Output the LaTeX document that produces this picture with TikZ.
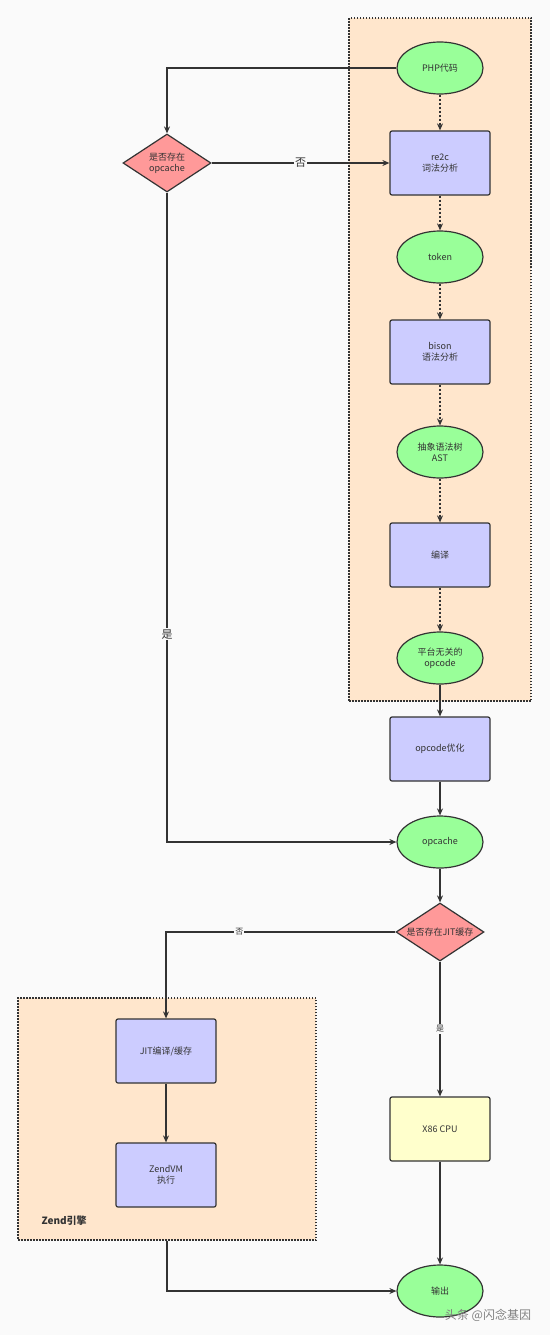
\documentclass[tikz,border=0pt]{standalone}
\usepackage{fontspec}
\setmainfont{Noto Sans CJK SC}
\usepackage{tikz}
\usetikzlibrary{arrows.meta,shapes.geometric,backgrounds}
\definecolor{bgcol}{HTML}{FAFAFA}
\definecolor{linecol}{HTML}{333333}
\definecolor{termcol}{HTML}{99FF99}
\definecolor{proccol}{HTML}{CCCCFF}
\definecolor{testcol}{HTML}{FF9999}
\definecolor{cpucol}{HTML}{FFFFCC}
\definecolor{groupcol}{HTML}{FFE6CC}
\newcommand{\thickness}{1.2pt}
\newcommand{\tip}{{Stealth[length=7pt,width=6pt]}}

\begin{document}
\begin{tikzpicture}[x=1pt,y=-1pt,
  every node/.style={text=linecol,font=\fontsize{9}{11}\selectfont,align=center},
  term/.style={ellipse,draw=linecol,fill=termcol,line width=\thickness,minimum width=86pt,minimum height=52pt,inner sep=0pt},
  proc/.style={rectangle,rounded corners=2pt,draw=linecol,fill=proccol,line width=\thickness,minimum width=100pt,minimum height=64pt},
  test/.style={diamond,draw=linecol,fill=testcol,line width=\thickness,minimum width=88pt,minimum height=58pt,inner sep=0pt,aspect=1.5},
  group/.style={rectangle,draw=linecol,fill=groupcol,line width=\thickness,dash pattern=on 1.5pt off 1.5pt},
  arr/.style={draw=linecol,line width=\thickness,-\tip},
  dotarr/.style={arr,dash pattern=on 2pt off 2pt},
  lbl/.style={fill=bgcol,inner sep=1pt,font=\fontsize{11}{13}\selectfont},
  smalllbl/.style={fill=bgcol,inner sep=1pt,font=\fontsize{8}{10}\selectfont}]
\useasboundingbox (0,0) rectangle (550,1335);
%parser
\node[term] (php) at (440, 68) {PHP代码};
\node[proc] (re2c) at (440, 163) {re2c\\词法分析};
\node[term] (token) at (440, 257) {token};
\node[proc] (bison) at (440, 352) {bison\\语法分析};
\node[term] (ast) at (440, 452) {抽象语法树\\AST};
\node[proc] (comp) at (440, 555) {编译};
\node[term] (opcode) at (440, 658) {平台无关的\\opcode};
%cache
\node[test] (hascache) at (167, 163) {是否存在\\opcache};
\node[proc] (optim) at (440, 749) {opcode优化};
\node[term] (opcache) at (440, 842) {opcache};
\node[test] (hasjit) at (440, 932) {\makebox[0pt]{是否存在JIT缓存}};
\node[proc] (cpu) at (440, 1129) [fill=cpucol] {X86 CPU};
\node[term] (out) at (440, 1291) {输出};
%zend
\node[proc] (jit) at (166, 1051) {JIT编译/缓存};
\node[proc] (zendvm) at (166, 1175) {ZendVM\\执行};
\node (zendlbl) at (38, 1221) [anchor=west,font=\fontsize{10}{12}\selectfont\bfseries] {Zend引擎};
\node (mark) at (488, 1315) [text=gray,font=\fontsize{12}{14}\selectfont] {头条 @闪念基因};
\begin{scope}[on background layer]
\fill[bgcol] (0,0) rectangle (550,1335);
\node[group] (php7) at (440, 359.5) [minimum width=182pt,minimum height=683pt] {};
\node[group] (zend) at (167, 1119) [minimum width=298pt,minimum height=242pt] {};
\end{scope}
%edges
\draw[dotarr] (php) -- (re2c);
\draw[dotarr] (re2c) -- (token);
\draw[dotarr] (token) -- (bison);
\draw[dotarr] (bison) -- (ast);
\draw[dotarr] (ast) -- (comp);
\draw[dotarr] (comp) -- (opcode);
\draw[arr] (opcode) -- (optim);
\draw[arr] (optim) -- (opcache);
\draw[arr] (opcache) -- (hasjit);
\draw[arr] (php.west) -| (hascache.north);
\draw[arr] (hascache.east) -- node[lbl] {否} (re2c.west);
\draw[arr] (hascache.south) |- node[lbl,pos=0.34] {是} (opcache.west);
\draw[arr] (hasjit.west) -| node[smalllbl,pos=0.34] {否} (jit.north);
\draw[arr] (hasjit.south) -- node[smalllbl] {是} (cpu.north);
\draw[arr] (cpu) -- (out);
\draw[arr] (jit) -- (zendvm);
\draw[arr] (zend.south) |- (out.west);
\end{tikzpicture}
\end{document}
